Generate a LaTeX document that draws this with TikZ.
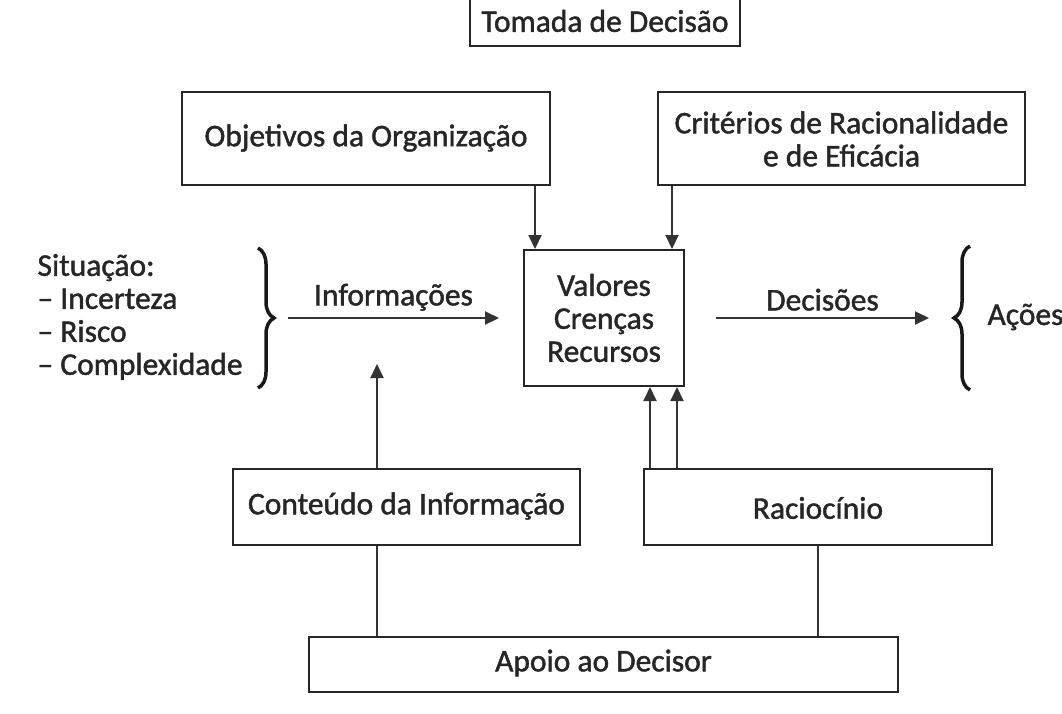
\documentclass[tikz,border=0pt]{standalone}
\usepackage{fontspec}
\setmainfont{Carlito}
\newfontfamily\semib{Carlito}[FakeBold=1.4]
\usetikzlibrary{arrows.meta,decorations.pathreplacing}
\begin{document}
\begin{tikzpicture}[x=1pt,y=-1pt,
  box/.style={draw=black!85,line width=2pt,inner sep=0pt},
  txt/.style={font=\semib\fontsize{31.5}{33}\selectfont,text=black!85},
  arr/.style={line width=2pt,draw=black!80,-{Triangle[length=14pt,width=13pt]}},
  ln/.style={line width=2pt,draw=black!80},
  brc/.style={line width=3.5pt,draw=black!90,decorate,decoration={brace,amplitude=16pt}}]
\useasboundingbox (0,0) rectangle (1062,713);
\clip (0,0) rectangle (1062,713);
% boxes
\node[box,minimum width=270pt,minimum height=60pt] (tom) at (605,16) {};
\node[txt] (tomt) at (605,21) {Tomada de Decisão};
\node[box,minimum width=368pt,minimum height=93pt] (obj) at (366,138.5) {};
\node[txt] (objt) at (366,138) {Objetivos da Organização};
\node[box,minimum width=367pt,minimum height=93pt] (cri) at (841.5,138.5) {};
\node[txt,align=center] (crit) at (841.5,139) {Critérios de Racionalidade\\e de Eficácia};
\node[box,minimum width=160pt,minimum height=136pt] (val) at (604,318) {};
\node[txt,align=center] (valt) at (604,318) {Valores\\Crenças\\Recursos};
\node[box,minimum width=347pt,minimum height=76pt] (con) at (406.5,507) {};
\node[txt] (cont) at (406.5,506) {Conteúdo da Informação};
\node[box,minimum width=348pt,minimum height=76pt] (rac) at (818,507) {};
\node[txt] (ract) at (818,508) {Raciocínio};
\node[box,minimum width=589pt,minimum height=55pt] (apo) at (603.5,664.5) {};
\node[txt] (apot) at (603.5,663) {Apoio ao Decisor};
% situation text
\node[txt,anchor=west,align=left] (sit) at (34,317) {Situação:\\– Incerteza\\– Risco\\– Complexidade};
\node[txt,anchor=west] (aco) at (984,317) {Ações};
% braces
\coordinate (b1t) at (258,248);
\coordinate (b1b) at (258,388);
\draw[brc] (b1t) -- (b1b);
\coordinate (b2t) at (970,390);
\coordinate (b2b) at (970,246);
\draw[brc] (b2t) -- (b2b);
% arrows
\coordinate (inf0) at (288,318);
\coordinate (inf1) at (499,318);
\draw[arr] (inf0) -- (inf1) node[txt,midway,above=3pt] (inft) {Informações};
\coordinate (dec0) at (716,318);
\coordinate (dec1) at (929,318);
\draw[arr] (dec0) -- (dec1) node[txt,midway,above=3pt] (dect) {Decisões};
\draw[arr] (obj.south -| 535,0) -- (val.north -| 535,0);
\draw[arr] (cri.south -| 672,0) -- (val.north -| 672,0);
\coordinate (up1) at (377,364);
\draw[arr] (con.north -| up1) -- (up1);
\draw[arr] (rac.north -| 650,0) -- (val.south -| 650,0);
\draw[arr] (rac.north -| 677,0) -- (val.south -| 677,0);
\draw[ln] (apo.north -| 377,0) -- (con.south -| 377,0);
\draw[ln] (apo.north -| 818,0) -- (rac.south -| 818,0);
\end{tikzpicture}
\end{document}
